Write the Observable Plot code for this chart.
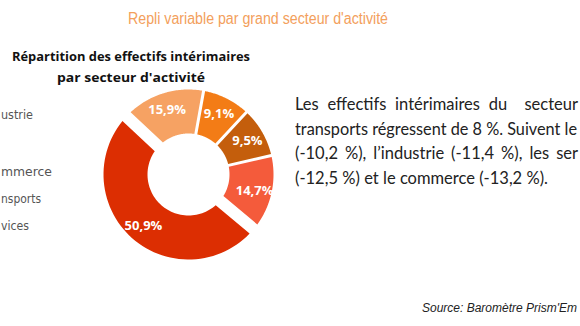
<!DOCTYPE html>
<html><head><meta charset="utf-8">
<script src="https://cdn.jsdelivr.net/npm/d3@7"></script>
<script src="https://cdn.jsdelivr.net/npm/@observablehq/plot@0.6"></script>
<style>
body{margin:0;background:#fff;}
#page{position:relative;width:580px;height:326px;overflow:hidden;background:#fff;}
.t{position:absolute;white-space:pre;line-height:1;}
#donut{position:absolute;left:88px;top:74px;}
</style></head><body><div id="page"><div id="donut"></div></div>
<script>
// ---- data ----
const sectors = ["Industrie", "BTP", "Commerce", "Transports", "Services"];
const shares = [50.9, 15.9, 9.1, 9.5, 14.7];
const shareLabels = ["50,9%", "15,9%", "9,1%", "9,5%", "14,7%"];
const colors = ["#DC2E02", "#F6A263", "#F37C16", "#C45E0C", "#F45B3B"];
// legend texts as visible in the (cropped) reference
const legendTexts = ["ustrie", "", "mmerce", "nsports", "vices"];
const title = "Repli variable par grand secteur d'activité";
const subtitleLines = ["Répartition des effectifs intérimaires", "par secteur d'activité"];
const paragraphLines = [
  "Les effectifs intérimaires du  secteur",
  "transports régressent de 8 %. Suivent le",
  "(-10,2 %), l’industrie (-11,4 %), les ser",
  "(-12,5 %) et le commerce (-13,2 %)."
];
const source = "Source: Baromètre Prism'Em";

// ---- geometry / style config ----
const startDeg = 130, R = 85, r = 41, labelR = 68;
const gapSmall = 3, gapBig = 12, exploded = ["Industrie"];

const total = d3.sum(shares);
const bounds = [];
let acc = 0;
for (const v of shares) { bounds.push([acc, acc + v]); acc += v; }
const ang = v => (startDeg + v / total * 360) * Math.PI / 180;
const n = sectors.length;
const gapAt = (i, j) => (exploded.includes(sectors[i]) || exploded.includes(sectors[j])) ? gapBig : gapSmall;

const pts = [];
const labels = [];
sectors.forEach((s, i) => {
  const a0 = ang(bounds[i][0]), a1 = ang(bounds[i][1]);
  const g0 = gapAt(i, (i - 1 + n) % n), g1 = gapAt(i, (i + 1) % n);
  const steps = 60;
  const o0 = a0 + Math.asin(g0 / 2 / R), o1 = a1 - Math.asin(g1 / 2 / R);
  for (let k = 0; k <= steps; k++) {
    const t = o0 + (o1 - o0) * k / steps;
    pts.push({sector: s, x: R * Math.sin(t), y: R * Math.cos(t)});
  }
  const i0 = a0 + Math.asin(g0 / 2 / r), i1 = a1 - Math.asin(g1 / 2 / r);
  for (let k = steps; k >= 0; k--) {
    const t = i0 + (i1 - i0) * k / steps;
    pts.push({sector: s, x: r * Math.sin(t), y: r * Math.cos(t)});
  }
  const m = (a0 + a1) / 2;
  labels.push({text: shareLabels[i], x: labelR * Math.sin(m), y: labelR * Math.cos(m)});
});

const chart = Plot.plot({
  width: 200, height: 200, margin: 0,
  style: {background: "transparent"},
  x: {domain: [-100, 100], axis: null},
  y: {domain: [-100, 100], axis: null},
  color: {domain: sectors, range: colors},
  marks: [
    Plot.line(pts, {x: "x", y: "y", z: "sector", fill: "sector", stroke: "none", curve: "linear-closed"}),
    Plot.text(labels, {x: "x", y: "y", text: "text", fill: "white", fontWeight: "bold", fontSize: 13, fontFamily: "Open Sans, sans-serif"})
  ]
});
document.getElementById("donut").appendChild(chart);

// ---- text helpers ----
const page = document.getElementById("page");
function addText(str, o) {
  const el = document.createElement("span");
  el.className = "t";
  el.textContent = str;
  el.style.fontFamily = o.font;
  el.style.fontSize = o.size + "px";
  el.style.fontWeight = o.weight || "normal";
  el.style.fontStyle = o.style || "normal";
  el.style.color = o.color;
  page.appendChild(el);
  el.style.top = (o.cy - o.size * 0.55) + "px";
  const w = el.getBoundingClientRect().width;
  const left = o.cx !== undefined ? o.cx - (o.width || w) / 2 : o.left;
  el.style.left = left + "px";
  if (o.width) {
    const spaces = (str.match(/ /g) || []).length;
    if (o.spread && w < o.width && spaces > 0) {
      el.style.wordSpacing = ((o.width - w) / spaces) + "px";
    } else {
      el.style.transformOrigin = "0 0";
      el.style.transform = `scaleX(${o.width / w})`;
    }
  }
  return el;
}

addText(title, {font: "Liberation Sans, Arial, sans-serif", size: 16, color: "#F3A05C", cx: 258, cy: 20, width: 260});
addText(subtitleLines[0], {font: "Open Sans, sans-serif", size: 13, weight: "bold", color: "#111", cx: 131, cy: 57, width: 238});
addText(subtitleLines[1], {font: "Open Sans, sans-serif", size: 13, weight: "bold", color: "#111", cx: 131, cy: 78, width: 148});

// legend (left part cut off in the reference)
const legendWidths = [32, 0, 51, 40, 28];
const legendY = [116, 144, 173, 200, 227];
legendTexts.forEach((s, i) => {
  if (s) addText(s, {font: "DejaVu Sans, sans-serif", size: 12.5, color: "#555", left: 1, cy: legendY[i], width: legendWidths[i]});
});

// paragraph (justified)
const paraY = [105, 130, 154, 179];
const paraWidths = [283, 282, 283, 253];
paragraphLines.forEach((line, i) => addText(line, {font: "Lato, sans-serif", size: 16.5, color: "#222", left: 295, cy: paraY[i], width: paraWidths[i], spread: true}));

addText(source, {font: "Liberation Sans, Arial, sans-serif", size: 12, style: "italic", color: "#222", left: 422, cy: 309, width: 155});
</script>
</body></html>
